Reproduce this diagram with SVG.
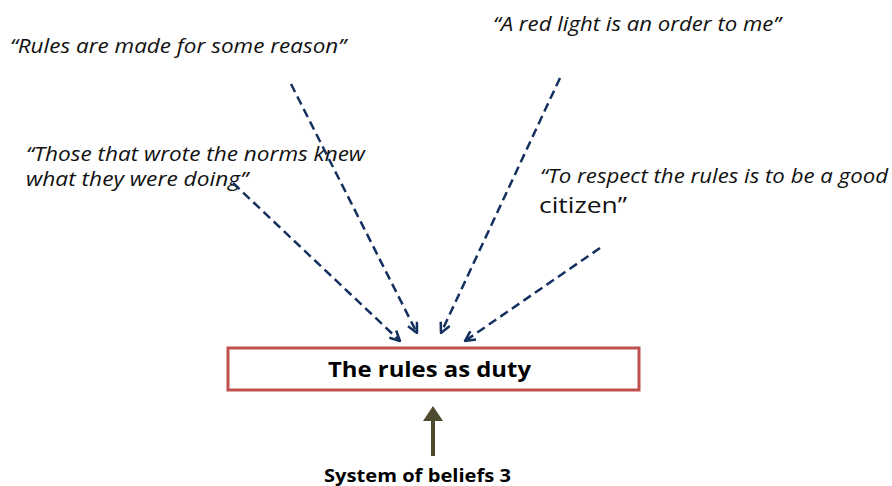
<svg xmlns="http://www.w3.org/2000/svg" width="892" height="486" viewBox="0 0 892 486">
<defs>
<style>
.q{font-family:"Open Sans","Liberation Sans",sans-serif;font-style:italic;font-size:20px;fill:#111}
.b{font-family:"Open Sans","Liberation Sans",sans-serif;font-weight:bold;fill:#000}
.dash{stroke:#14305F;stroke-width:2.5;stroke-dasharray:9 5;fill:none}
</style>
<marker id="vh" viewBox="0 0 12 12" refX="11" refY="6" markerWidth="12" markerHeight="12" markerUnits="userSpaceOnUse" orient="auto">
<polyline points="1,1 11,6 1,11" fill="none" stroke="#14305F" stroke-width="2.5"/>
</marker>
</defs>
<rect width="892" height="486" fill="#fff"/>
<g id="q1"><text class="q" x="10" y="53" textLength="336" lengthAdjust="spacingAndGlyphs">“Rules are made for some reason”</text></g>
<g id="q2"><text class="q" x="493" y="31" textLength="288" lengthAdjust="spacingAndGlyphs">“A red light is an order to me”</text></g>
<g id="q3"><text class="q" x="26" y="161" textLength="339" lengthAdjust="spacingAndGlyphs">“Those that wrote the norms knew</text><text class="q" x="26" y="186" textLength="222" lengthAdjust="spacingAndGlyphs">what they were doing”</text></g>
<g id="q4"><text class="q" x="540" y="183" textLength="348" lengthAdjust="spacingAndGlyphs">“To respect the rules is to be a good</text><text class="q" x="539" y="213" style="font-style:normal;font-size:22px" textLength="88" lengthAdjust="spacingAndGlyphs">citizen”</text></g>
<g id="duty"><rect x="228" y="348" width="411" height="42" fill="#fff" stroke="#C0504D" stroke-width="3"/><text class="b" x="328" y="377" font-size="22" textLength="203" lengthAdjust="spacingAndGlyphs">The rules as duty</text></g>
<g id="beliefs"><text class="b" x="324" y="482" font-size="18" textLength="187" lengthAdjust="spacingAndGlyphs">System of beliefs 3</text></g>
<g id="connectors">
<line class="dash" x1="233" y1="183" x2="400" y2="341" marker-end="url(#vh)"/>
<line class="dash" x1="291" y1="84" x2="417" y2="333" marker-end="url(#vh)"/>
<line class="dash" x1="560" y1="78" x2="441" y2="333" marker-end="url(#vh)"/>
<line class="dash" x1="600" y1="248" x2="465" y2="341" marker-end="url(#vh)"/>
<line x1="433" y1="456" x2="433" y2="412" stroke="#4D4A2E" stroke-width="4"/>
<polygon points="433,406 443,421 423,421" fill="#4D4A2E"/>
</g>
</svg>
